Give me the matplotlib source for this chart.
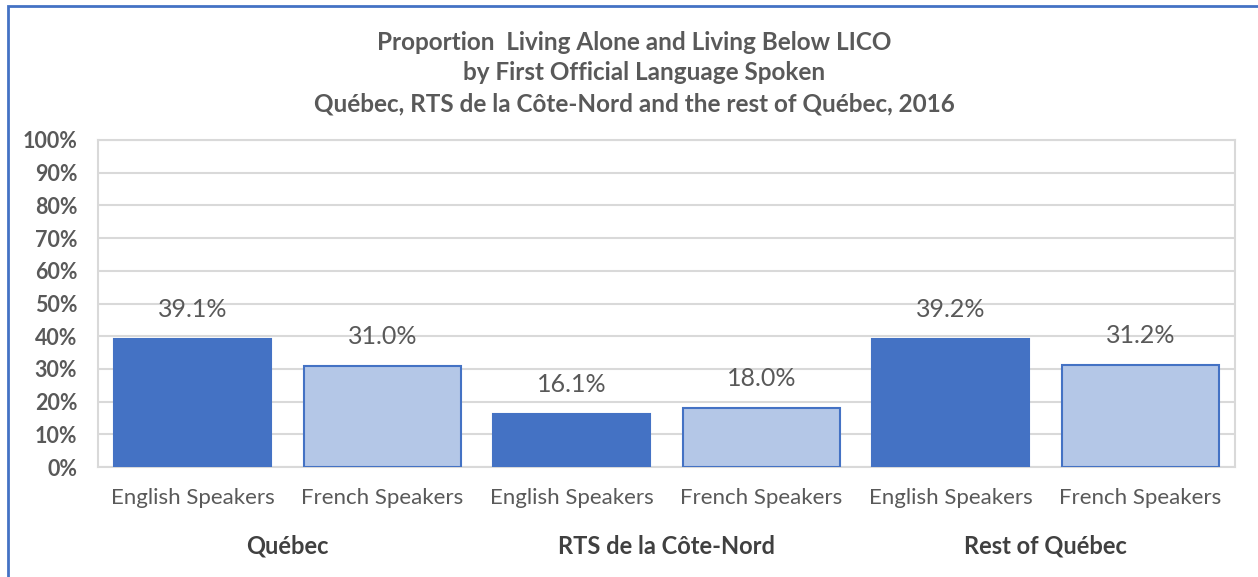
import matplotlib
matplotlib.use("Agg")
import matplotlib.pyplot as plt
from matplotlib.patches import Rectangle
import matplotlib.transforms as mtransforms

plt.rcParams['font.family'] = ['Lato', 'DejaVu Sans']

title_lines = ["Proportion  Living Alone and Living Below LICO",
               "by First Official Language Spoken",
               "Québec, RTS de la Côte-Nord and the rest of Québec, 2016"]
groups = ["Québec", "RTS de la Côte-Nord", "Rest of Québec"]
categories = ["English Speakers", "French Speakers"] * 3
values = [39.1, 31.0, 16.1, 18.0, 39.2, 31.2]
bar_kinds = ["English", "French"] * 3
yticks = list(range(0, 101, 10))

dark = "#4472C4"
light = "#B4C7E7"
textc = "#595959"
gridc = "#D9D9D9"

W, H = 1258, 577
fig = plt.figure(figsize=(W / 100, H / 100), dpi=100)
fig.patch.set_facecolor("white")

# outer chart border (clipped by image edges)
fig.patches.append(Rectangle((8 / W, -0.05), 1.2, 1 - 6 / H + 0.05,
                             transform=fig.transFigure, fill=False,
                             edgecolor=dark, linewidth=2, zorder=0))

ax = fig.add_axes([98 / W, 1 - 467 / H, (1235 - 98) / W, (467 - 140) / H])
x = list(range(len(values)))
colors = [dark if k == "English" else light for k in bar_kinds]
bars = ax.bar(x, values, width=0.83, color=colors, edgecolor=dark,
              linewidth=1.5, zorder=3)

ax.set_xlim(-0.5, len(values) - 0.5)
ax.set_ylim(0, 100)
ax.set_yticks(yticks)
ax.set_yticklabels([f"{t}%" for t in yticks], fontsize=15.5,
                   fontweight="bold", color=textc)
ax.set_xticks(x)
ax.set_xticklabels(categories, fontsize=16, color=textc)
ax.tick_params(axis="both", length=0)
ax.tick_params(axis="x", pad=15)
ax.tick_params(axis="y", pad=15)
ax.yaxis.grid(True, color=gridc, linewidth=1.5, zorder=0)
ax.set_axisbelow(True)
for s in ["left", "right", "bottom", "top"]:
    ax.spines[s].set_color(gridc)
    ax.spines[s].set_linewidth(1.5)

for b, v in zip(bars, values):
    ax.annotate(f"{v:.1f}%", (b.get_x() + b.get_width() / 2, v),
                xytext=(0, 13), textcoords="offset points",
                ha="center", va="bottom", fontsize=18, color=textc)

trans = mtransforms.blended_transform_factory(ax.transData, fig.transFigure)
for i, g in enumerate(groups):
    ax.text(2 * i + 0.5, 1 - 546 / H, g, transform=trans, ha="center",
            va="center", fontsize=17, fontweight="bold", color="#404040")

title_x = [634, 644, 634]
for i, line in enumerate(title_lines):
    fig.text(title_x[i] / W, 1 - (42 + 31 * i) / H, line, ha="center",
             va="center", fontsize=17.5, fontweight="bold", color=textc)

fig.savefig("out.png", dpi=100)
